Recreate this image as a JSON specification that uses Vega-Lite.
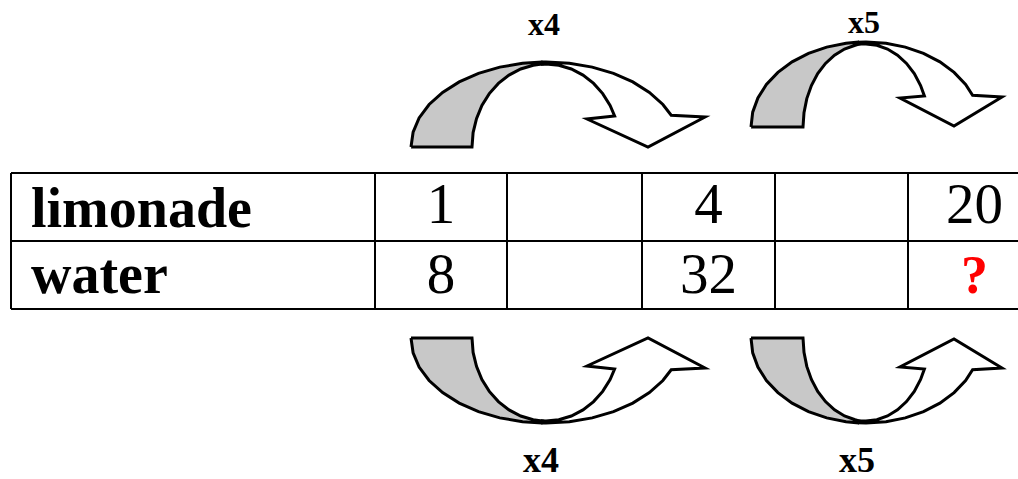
{
  "$schema": "https://vega.github.io/schema/vega-lite/v6.json",
  "width": 1018,
  "height": 479,
  "autosize": {"type": "none"},
  "padding": 0,
  "background": "white",
  "config": {"view": {"stroke": null}},
  "datasets": {
    "cells": [
      {"row": 0, "col": 0, "text": "limonade"},
      {"row": 0, "col": 1, "text": "1"},
      {"row": 0, "col": 2, "text": ""},
      {"row": 0, "col": 3, "text": "4"},
      {"row": 0, "col": 4, "text": ""},
      {"row": 0, "col": 5, "text": "20"},
      {"row": 1, "col": 0, "text": "water"},
      {"row": 1, "col": 1, "text": "8"},
      {"row": 1, "col": 2, "text": ""},
      {"row": 1, "col": 3, "text": "32"},
      {"row": 1, "col": 4, "text": ""},
      {"row": 1, "col": 5, "text": "?"}
    ],
    "hlines": [{"r": 0}, {"r": 1}, {"r": 2}],
    "vlines": [{"c": 0}, {"c": 1}, {"c": 2}, {"c": 3}, {"c": 4}, {"c": 5}],
    "arrows": [
      {"arrow": "A", "poly": "A-back", "part": "back", "i": 0, "x": 411, "y": 147},
      {"arrow": "A", "poly": "A-back", "part": "back", "i": 1, "x": 413.1, "y": 132.2},
      {"arrow": "A", "poly": "A-back", "part": "back", "i": 2, "x": 419.1, "y": 117.9},
      {"arrow": "A", "poly": "A-back", "part": "back", "i": 3, "x": 429.1, "y": 104.5},
      {"arrow": "A", "poly": "A-back", "part": "back", "i": 4, "x": 442.6, "y": 92.4},
      {"arrow": "A", "poly": "A-back", "part": "back", "i": 5, "x": 459.2, "y": 81.9},
      {"arrow": "A", "poly": "A-back", "part": "back", "i": 6, "x": 478.5, "y": 73.4},
      {"arrow": "A", "poly": "A-back", "part": "back", "i": 7, "x": 499.8, "y": 67.1},
      {"arrow": "A", "poly": "A-back", "part": "back", "i": 8, "x": 522.6, "y": 63.3},
      {"arrow": "A", "poly": "A-back", "part": "back", "i": 9, "x": 541.3, "y": 62.1},
      {"arrow": "A", "poly": "A-back", "part": "back", "i": 10, "x": 542, "y": 64.1},
      {"arrow": "A", "poly": "A-back", "part": "back", "i": 11, "x": 533.2, "y": 65.3},
      {"arrow": "A", "poly": "A-back", "part": "back", "i": 12, "x": 520.7, "y": 69},
      {"arrow": "A", "poly": "A-back", "part": "back", "i": 13, "x": 509, "y": 75.1},
      {"arrow": "A", "poly": "A-back", "part": "back", "i": 14, "x": 498.4, "y": 83.4},
      {"arrow": "A", "poly": "A-back", "part": "back", "i": 15, "x": 489.3, "y": 93.6},
      {"arrow": "A", "poly": "A-back", "part": "back", "i": 16, "x": 481.9, "y": 105.5},
      {"arrow": "A", "poly": "A-back", "part": "back", "i": 17, "x": 476.5, "y": 118.6},
      {"arrow": "A", "poly": "A-back", "part": "back", "i": 18, "x": 473.1, "y": 132.6},
      {"arrow": "A", "poly": "A-back", "part": "back", "i": 19, "x": 472, "y": 147},
      {"arrow": "A", "poly": "A-back", "part": "back", "i": 20, "x": 411, "y": 147},
      {"arrow": "A", "poly": "A-front", "part": "front", "i": 0, "x": 541.3, "y": 62.1},
      {"arrow": "A", "poly": "A-front", "part": "front", "i": 1, "x": 546, "y": 62},
      {"arrow": "A", "poly": "A-front", "part": "front", "i": 2, "x": 569.4, "y": 63.3},
      {"arrow": "A", "poly": "A-front", "part": "front", "i": 3, "x": 592.2, "y": 67.1},
      {"arrow": "A", "poly": "A-front", "part": "front", "i": 4, "x": 613.5, "y": 73.4},
      {"arrow": "A", "poly": "A-front", "part": "front", "i": 5, "x": 632.8, "y": 81.9},
      {"arrow": "A", "poly": "A-front", "part": "front", "i": 6, "x": 649.4, "y": 92.4},
      {"arrow": "A", "poly": "A-front", "part": "front", "i": 7, "x": 662.9, "y": 104.5},
      {"arrow": "A", "poly": "A-front", "part": "front", "i": 8, "x": 671.2, "y": 115.2},
      {"arrow": "A", "poly": "A-front", "part": "front", "i": 9, "x": 705, "y": 117},
      {"arrow": "A", "poly": "A-front", "part": "front", "i": 10, "x": 648, "y": 147},
      {"arrow": "A", "poly": "A-front", "part": "front", "i": 11, "x": 587, "y": 119},
      {"arrow": "A", "poly": "A-front", "part": "front", "i": 12, "x": 614.6, "y": 115.9},
      {"arrow": "A", "poly": "A-front", "part": "front", "i": 13, "x": 610.1, "y": 105.5},
      {"arrow": "A", "poly": "A-front", "part": "front", "i": 14, "x": 602.7, "y": 93.6},
      {"arrow": "A", "poly": "A-front", "part": "front", "i": 15, "x": 593.6, "y": 83.4},
      {"arrow": "A", "poly": "A-front", "part": "front", "i": 16, "x": 583, "y": 75.1},
      {"arrow": "A", "poly": "A-front", "part": "front", "i": 17, "x": 571.3, "y": 69},
      {"arrow": "A", "poly": "A-front", "part": "front", "i": 18, "x": 558.8, "y": 65.3},
      {"arrow": "A", "poly": "A-front", "part": "front", "i": 19, "x": 546, "y": 64},
      {"arrow": "A", "poly": "A-front", "part": "front", "i": 20, "x": 542, "y": 64.1},
      {"arrow": "A", "poly": "A-front", "part": "front", "i": 21, "x": 541.3, "y": 62.1},
      {"arrow": "B", "poly": "B-back", "part": "back", "i": 0, "x": 751, "y": 127},
      {"arrow": "B", "poly": "B-back", "part": "back", "i": 1, "x": 752.7, "y": 112.2},
      {"arrow": "B", "poly": "B-back", "part": "back", "i": 2, "x": 757.9, "y": 97.9},
      {"arrow": "B", "poly": "B-back", "part": "back", "i": 3, "x": 766.4, "y": 84.5},
      {"arrow": "B", "poly": "B-back", "part": "back", "i": 4, "x": 777.9, "y": 72.4},
      {"arrow": "B", "poly": "B-back", "part": "back", "i": 5, "x": 792.1, "y": 61.9},
      {"arrow": "B", "poly": "B-back", "part": "back", "i": 6, "x": 808.5, "y": 53.4},
      {"arrow": "B", "poly": "B-back", "part": "back", "i": 7, "x": 826.7, "y": 47.1},
      {"arrow": "B", "poly": "B-back", "part": "back", "i": 8, "x": 846, "y": 43.3},
      {"arrow": "B", "poly": "B-back", "part": "back", "i": 9, "x": 858, "y": 42.2},
      {"arrow": "B", "poly": "B-back", "part": "back", "i": 10, "x": 859, "y": 44.1},
      {"arrow": "B", "poly": "B-back", "part": "back", "i": 11, "x": 855.1, "y": 45.3},
      {"arrow": "B", "poly": "B-back", "part": "back", "i": 12, "x": 844.5, "y": 49},
      {"arrow": "B", "poly": "B-back", "part": "back", "i": 13, "x": 834.5, "y": 55.1},
      {"arrow": "B", "poly": "B-back", "part": "back", "i": 14, "x": 825.5, "y": 63.4},
      {"arrow": "B", "poly": "B-back", "part": "back", "i": 15, "x": 817.7, "y": 73.6},
      {"arrow": "B", "poly": "B-back", "part": "back", "i": 16, "x": 811.4, "y": 85.5},
      {"arrow": "B", "poly": "B-back", "part": "back", "i": 17, "x": 806.8, "y": 98.6},
      {"arrow": "B", "poly": "B-back", "part": "back", "i": 18, "x": 804, "y": 112.6},
      {"arrow": "B", "poly": "B-back", "part": "back", "i": 19, "x": 803, "y": 127},
      {"arrow": "B", "poly": "B-back", "part": "back", "i": 20, "x": 751, "y": 127},
      {"arrow": "B", "poly": "B-front", "part": "front", "i": 0, "x": 858, "y": 42.2},
      {"arrow": "B", "poly": "B-front", "part": "front", "i": 1, "x": 866, "y": 42},
      {"arrow": "B", "poly": "B-front", "part": "front", "i": 2, "x": 886, "y": 43.3},
      {"arrow": "B", "poly": "B-front", "part": "front", "i": 3, "x": 905.3, "y": 47.1},
      {"arrow": "B", "poly": "B-front", "part": "front", "i": 4, "x": 923.5, "y": 53.4},
      {"arrow": "B", "poly": "B-front", "part": "front", "i": 5, "x": 939.9, "y": 61.9},
      {"arrow": "B", "poly": "B-front", "part": "front", "i": 6, "x": 954.1, "y": 72.4},
      {"arrow": "B", "poly": "B-front", "part": "front", "i": 7, "x": 965.6, "y": 84.5},
      {"arrow": "B", "poly": "B-front", "part": "front", "i": 8, "x": 972.6, "y": 95.2},
      {"arrow": "B", "poly": "B-front", "part": "front", "i": 9, "x": 1002, "y": 97},
      {"arrow": "B", "poly": "B-front", "part": "front", "i": 10, "x": 954, "y": 126},
      {"arrow": "B", "poly": "B-front", "part": "front", "i": 11, "x": 900, "y": 98},
      {"arrow": "B", "poly": "B-front", "part": "front", "i": 12, "x": 924.4, "y": 95.9},
      {"arrow": "B", "poly": "B-front", "part": "front", "i": 13, "x": 920.6, "y": 85.5},
      {"arrow": "B", "poly": "B-front", "part": "front", "i": 14, "x": 914.3, "y": 73.6},
      {"arrow": "B", "poly": "B-front", "part": "front", "i": 15, "x": 906.5, "y": 63.4},
      {"arrow": "B", "poly": "B-front", "part": "front", "i": 16, "x": 897.5, "y": 55.1},
      {"arrow": "B", "poly": "B-front", "part": "front", "i": 17, "x": 887.5, "y": 49},
      {"arrow": "B", "poly": "B-front", "part": "front", "i": 18, "x": 876.9, "y": 45.3},
      {"arrow": "B", "poly": "B-front", "part": "front", "i": 19, "x": 866, "y": 44},
      {"arrow": "B", "poly": "B-front", "part": "front", "i": 20, "x": 859, "y": 44.1},
      {"arrow": "B", "poly": "B-front", "part": "front", "i": 21, "x": 858, "y": 42.2}
    ],
    "steps": [
      {"pos": "top", "text": "x4", "x": 544, "y": 35},
      {"pos": "top", "text": "x5", "x": 864, "y": 33},
      {"pos": "bottom", "text": "x4", "x": 541, "y": 472},
      {"pos": "bottom", "text": "x5", "x": 857, "y": 472}
    ]
  },
  "resolve": {"scale": {"x": "independent", "y": "independent", "fill": "independent"}},
  "layer": [
    {
      "data": {"name": "hlines"},
      "mark": {"type": "rule", "stroke": "black", "strokeWidth": 2},
      "encoding": {
        "y": {"field": "r", "type": "quantitative", "axis": null, "scale": {"domain": [0, 1, 2], "range": [173, 241, 309], "nice": false, "zero": false}},
        "x": {"datum": 0, "type": "quantitative", "axis": null, "scale": {"domain": [0, 1, 2, 3, 4, 5, 6], "range": [11, 375, 507, 642, 775, 908, 1041], "nice": false, "zero": false}},
        "x2": {"datum": 6}
      }
    },
    {
      "data": {"name": "vlines"},
      "mark": {"type": "rule", "stroke": "black", "strokeWidth": 2},
      "encoding": {
        "x": {"field": "c", "type": "quantitative", "axis": null, "scale": {"domain": [0, 1, 2, 3, 4, 5, 6], "range": [11, 375, 507, 642, 775, 908, 1041], "nice": false, "zero": false}},
        "y": {"datum": 0, "type": "quantitative", "axis": null, "scale": {"domain": [0, 1, 2], "range": [173, 241, 309], "nice": false, "zero": false}},
        "y2": {"datum": 2}
      }
    },
    {
      "data": {"name": "cells"},
      "transform": [{"filter": "datum.col === 0"}],
      "mark": {"type": "text", "align": "left", "baseline": "alphabetic", "dx": 20, "font": "Liberation Serif", "fontWeight": "bold", "fontSize": 56, "color": "black"},
      "encoding": {
        "x": {"field": "col", "type": "quantitative", "axis": null, "scale": {"domain": [0, 1, 2, 3, 4, 5, 6], "range": [11, 375, 507, 642, 775, 908, 1041], "nice": false, "zero": false}},
        "y": {"field": "row", "type": "quantitative", "axis": null, "scale": {"domain": [0, 1], "range": [227, 293], "nice": false, "zero": false}},
        "text": {"field": "text"}
      }
    },
    {
      "data": {"name": "cells"},
      "transform": [{"filter": "datum.col > 0 && datum.text !== '?'"}],
      "mark": {"type": "text", "align": "center", "baseline": "alphabetic", "font": "Liberation Serif", "fontSize": 57, "color": "black"},
      "encoding": {
        "x": {"field": "col", "type": "quantitative", "axis": null, "scale": {"domain": [1, 2, 3, 4, 5], "range": [441, 574.5, 708.5, 841.5, 974.5], "nice": false, "zero": false}},
        "y": {"field": "row", "type": "quantitative", "axis": null, "scale": {"domain": [0, 1], "range": [223, 293], "nice": false, "zero": false}},
        "text": {"field": "text"}
      }
    },
    {
      "data": {"name": "cells"},
      "transform": [{"filter": "datum.text === '?'"}],
      "mark": {"type": "text", "align": "center", "baseline": "alphabetic", "font": "Liberation Serif", "fontWeight": "bold", "fontSize": 54, "color": "#ff0000"},
      "encoding": {
        "x": {"field": "col", "type": "quantitative", "axis": null, "scale": {"domain": [1, 2, 3, 4, 5], "range": [441, 574.5, 708.5, 841.5, 974.5], "nice": false, "zero": false}},
        "y": {"field": "row", "type": "quantitative", "axis": null, "scale": {"domain": [0, 1], "range": [223, 293], "nice": false, "zero": false}},
        "text": {"field": "text"}
      }
    },
    {
      "data": {"name": "arrows"},
      "mark": {"type": "line", "stroke": "black", "strokeWidth": 3, "strokeJoin": "miter"},
      "encoding": {
        "x": {"field": "x", "type": "quantitative", "axis": null, "scale": {"domain": [0, 1018], "range": [0, 1018], "nice": false, "zero": false}},
        "y": {"field": "y", "type": "quantitative", "axis": null, "scale": {"domain": [0, 479], "range": [0, 479], "nice": false, "zero": false}},
        "order": {"field": "i", "type": "quantitative"},
        "detail": {"field": "poly", "type": "nominal"},
        "fill": {"field": "part", "type": "nominal", "legend": null, "scale": {"domain": ["back", "front"], "range": ["#c8c8c8", "#ffffff"]}}
      }
    },
    {
      "data": {"name": "arrows"},
      "transform": [{"filter": "datum.arrow === 'A'"}],
      "mark": {"type": "line", "stroke": "black", "strokeWidth": 3, "strokeJoin": "miter"},
      "encoding": {
        "x": {"field": "x", "type": "quantitative", "axis": null, "scale": {"domain": [0, 1018], "range": [0, 1018], "nice": false, "zero": false}},
        "y": {"field": "y", "type": "quantitative", "axis": null, "scale": {"domain": [0, 479], "range": [485, 6], "nice": false, "zero": false}},
        "order": {"field": "i", "type": "quantitative"},
        "detail": {"field": "poly", "type": "nominal"},
        "fill": {"field": "part", "type": "nominal", "legend": null, "scale": {"domain": ["back", "front"], "range": ["#c8c8c8", "#ffffff"]}}
      }
    },
    {
      "data": {"name": "arrows"},
      "transform": [{"filter": "datum.arrow === 'B'"}],
      "mark": {"type": "line", "stroke": "black", "strokeWidth": 3, "strokeJoin": "miter"},
      "encoding": {
        "x": {"field": "x", "type": "quantitative", "axis": null, "scale": {"domain": [0, 1018], "range": [0, 1018], "nice": false, "zero": false}},
        "y": {"field": "y", "type": "quantitative", "axis": null, "scale": {"domain": [0, 479], "range": [465, -14], "nice": false, "zero": false}},
        "order": {"field": "i", "type": "quantitative"},
        "detail": {"field": "poly", "type": "nominal"},
        "fill": {"field": "part", "type": "nominal", "legend": null, "scale": {"domain": ["back", "front"], "range": ["#c8c8c8", "#ffffff"]}}
      }
    },
    {
      "data": {"name": "steps"},
      "transform": [{"filter": "datum.pos === 'top'"}],
      "mark": {"type": "text", "align": "center", "baseline": "alphabetic", "font": "Liberation Serif", "fontWeight": "bold", "fontSize": 32, "color": "black"},
      "encoding": {
        "x": {"field": "x", "type": "quantitative", "axis": null, "scale": {"domain": [0, 1018], "range": [0, 1018], "nice": false, "zero": false}},
        "y": {"field": "y", "type": "quantitative", "axis": null, "scale": {"domain": [0, 479], "range": [0, 479], "nice": false, "zero": false}},
        "text": {"field": "text"}
      }
    },
    {
      "data": {"name": "steps"},
      "transform": [{"filter": "datum.pos === 'bottom'"}],
      "mark": {"type": "text", "align": "center", "baseline": "alphabetic", "font": "Liberation Serif", "fontWeight": "bold", "fontSize": 36, "color": "black"},
      "encoding": {
        "x": {"field": "x", "type": "quantitative", "axis": null, "scale": {"domain": [0, 1018], "range": [0, 1018], "nice": false, "zero": false}},
        "y": {"field": "y", "type": "quantitative", "axis": null, "scale": {"domain": [0, 479], "range": [0, 479], "nice": false, "zero": false}},
        "text": {"field": "text"}
      }
    }
  ]
}
